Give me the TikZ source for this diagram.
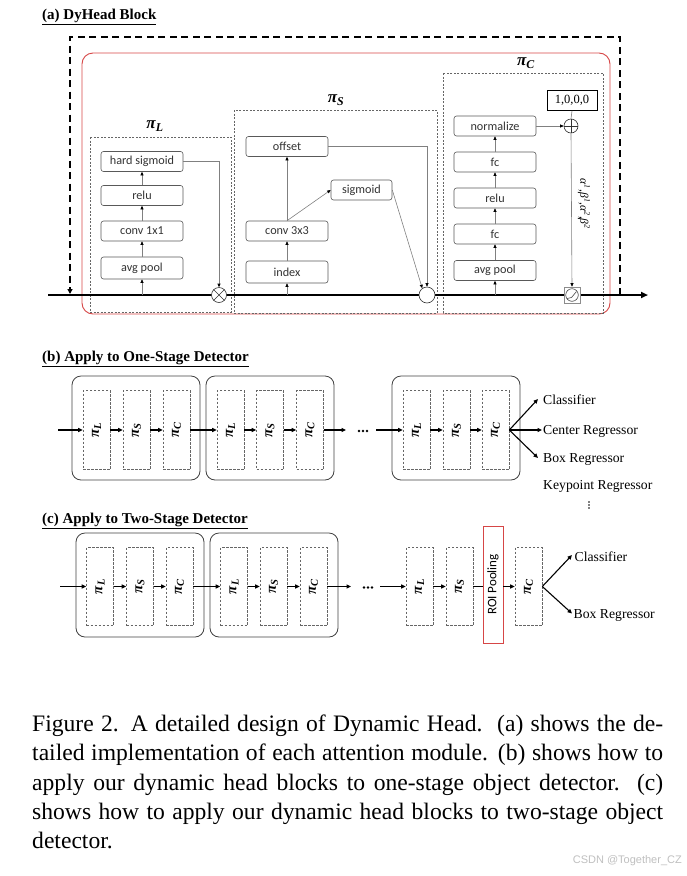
\documentclass[tikz,border=0pt]{standalone}
\usepackage{fontspec}
\setmainfont{Liberation Serif}
\newfontfamily\boxfont{Carlito}
\newfontfamily\wmfont{Liberation Sans}
\usetikzlibrary{arrows.meta,calc}
\definecolor{redf}{RGB}{214,70,70}
\newcommand{\pisym}[1]{{\bfseries\itshape π\textsubscript{#1}}}
\newcommand{\pilab}[1]{{\fontsize{15}{16}\selectfont\pisym{#1}}}
\tikzset{
 abox/.style={draw=black!65, rounded corners=2.5pt, minimum width=82pt, minimum height=20pt, inner sep=0pt, font=\boxfont\fontsize{12.2}{14}\selectfont, text=black!80, fill=white, line width=0.6pt},
 garr/.style={draw=black!50, line width=0.6pt, -{Triangle[length=3.5pt,width=3pt,color=black]}},
 gline/.style={draw=black!50, line width=0.6pt},
 pdash/.style={draw=black!60, line width=0.6pt, dash pattern=on 2pt off 1.5pt},
 mainln/.style={line width=2.2pt, black},
 blk/.style={draw=black!75, line width=0.8pt, rounded corners=9pt},
 pib/.style={draw=black!60, line width=0.6pt, dash pattern=on 2.5pt off 1.5pt, minimum width=27pt, minimum height=79pt, inner sep=0pt},
 barr/.style={line width=1.1pt, -{Triangle[length=4.5pt,width=4pt]}},
 bline/.style={line width=1.1pt},
 tlab/.style={font=\fontsize{13.7}{15}\selectfont, inner sep=0pt, anchor=base west},
 ttl/.style={font=\bfseries\fontsize{15}{17}\selectfont, anchor=base west, inner sep=0pt},
 capline/.style={anchor=base west, inner sep=0pt, font=\fontsize{23.6}{28}\selectfont},
 circ/.style={circle, draw=black!80, fill=white, inner sep=0pt, line width=0.6pt},
}
\begin{document}
\begin{tikzpicture}[x=1pt,y=-1pt]
\useasboundingbox (0,0) rectangle (687,876);

% ---------------- (a) ----------------
\node[ttl] (ta) at (42,19.5) {\underline{(a) DyHead Block}};

\draw[redf, line width=0.9pt, rounded corners=11pt] (82,53) rectangle (610,314);
\draw[pdash] (90,137) rectangle (231,312);
\draw[pdash] (234,110) rectangle (437,313);
\draw[pdash] (443,73) rectangle (603,313);

\node[font=\fontsize{17}{18}\selectfont] (lpiL) at (155,126) {\pisym{L}};
\node[font=\fontsize{17}{18}\selectfont] (lpiS) at (336,100) {\pisym{S}};
\node[font=\fontsize{17}{18}\selectfont] (lpiC) at (526,63) {\pisym{C}};

\coordinate (mlS) at (48,295);
\coordinate (mlE) at (648,295);
\coordinate (dR) at (620,295);
\coordinate (dTR) at (620,37);
\coordinate (dTL) at (70,37);
\coordinate (dL) at (70,294);
\draw[line width=2pt, dash pattern=on 7pt off 4.5pt, -{Triangle[length=5pt,width=5pt]}] (dR) -- (dTR) -- (dTL) -- (dL);
\draw[mainln, -{Triangle[length=7pt,width=6pt]}] (mlS) -- (mlE);

% pi_L
\node[abox] (hs) at (142,161.5) {hard sigmoid};
\node[abox] (re1) at (142,195.5) {relu};
\node[abox] (c11) at (142,231) {conv 1x1};
\node[abox, minimum height=22pt] (ap1) at (142,268) {avg pool};
% pi_S
\node[abox] (off) at (287,146.5) {offset};
\node[abox] (c33) at (287,231) {conv 3x3};
\node[abox, minimum height=22pt] (idx) at (287,272) {index};
\node[abox, minimum width=61pt] (sig) at (361.5,190) {sigmoid};
% pi_C
\node[abox] (nrm) at (495,126) {normalize};
\node[abox] (fc2) at (495,162) {fc};
\node[abox] (re3) at (495,198) {relu};
\node[abox] (fc1) at (495,234) {fc};
\node[abox] (ap3) at (495,270.5) {avg pool};
\node[draw=black, line width=0.8pt, minimum width=50pt, minimum height=20pt, inner sep=0pt, font=\fontsize{12.5}{14}\selectfont] (one) at (572,100.5) {1,0,0,0};

\node[circ, minimum size=15pt] (mul) at (219,295) {};
\draw[black!80, line width=0.6pt] (mul.45) -- (mul.225) (mul.135) -- (mul.315);
\node[circ, minimum size=16pt] (cs) at (427,295) {};
\node[circ, minimum size=14pt] (add) at (571,126) {};
\draw[black!80, line width=0.6pt] (add.north) -- (add.south) (add.west) -- (add.east);
\node[draw=black!45, fill=white, minimum size=16pt, inner sep=0pt, line width=0.6pt] (act) at (572,295) {};
\draw[black!70, line width=0.6pt] (act.center) circle (6.3pt);
\draw[black!70, line width=0.6pt] ($(act.center)+(-5,3.5)$) -- ($(act.center)+(-0.5,2.5)$) -- ($(act.center)+(4.5,-3.5)$);

\node[rotate=-90, font=\itshape\fontsize{11.5}{13}\selectfont] (ab) at (584,204) {α\textsuperscript{1},β\textsuperscript{1},α\textsuperscript{2},β\textsuperscript{2}};

% arrows (a)
\draw[garr] (ap1.south |- mlS) -- (ap1.south);
\draw[garr] (ap1.north) -- (c11.south);
\draw[garr] (c11.north) -- (re1.south);
\draw[garr] (re1.north) -- (hs.south);
\draw[garr] (hs.east) -| (mul.north);
\draw[garr] (idx.south |- mlS) -- (idx.south);
\draw[garr] (idx.north) -- (c33.south);
\draw[garr] (c33.north) -- (off.south);
\draw[garr] (c33.north) -- (sig.west);
\draw[garr] (off.east) -| (cs.north);
\draw[garr] (sig.east) -- (cs.125);
\draw[garr] (ap3.south |- mlS) -- (ap3.south);
\draw[garr] (ap3.north) -- (fc1.south);
\draw[garr] (fc1.north) -- (re3.south);
\draw[garr] (re3.north) -- (fc2.south);
\draw[garr] (fc2.north) -- (nrm.south);
\draw[garr] (nrm.east) -- (add.west);
\draw[gline] (one.south) -- (add.north);
\draw[garr] (add.south) -- (act.north);

% ---------------- (b) ----------------
\node[ttl] (tb) at (42,361) {\underline{(b) Apply to One-Stage Detector}};
\draw[blk] (72,376) rectangle (200,480);
\draw[blk] (206,376) rectangle (334,480);
\draw[blk] (392,376) rectangle (520,480);

\node[pib] (bL1) at (96.5,430) {\rotatebox{90}{\pilab{L}}};
\node[pib] (bS1) at (136.5,430) {\rotatebox{90}{\pilab{S}}};
\node[pib] (bC1) at (176.5,430) {\rotatebox{90}{\pilab{C}}};
\node[pib] (bL2) at (230.5,430) {\rotatebox{90}{\pilab{L}}};
\node[pib] (bS2) at (270,430) {\rotatebox{90}{\pilab{S}}};
\node[pib] (bC2) at (310,430) {\rotatebox{90}{\pilab{C}}};
\node[pib] (bL3) at (416.5,430) {\rotatebox{90}{\pilab{L}}};
\node[pib] (bS3) at (456.5,430) {\rotatebox{90}{\pilab{S}}};
\node[pib] (bC3) at (495.5,430) {\rotatebox{90}{\pilab{C}}};

\coordinate (bin) at (58,430);
\coordinate (bout) at (346,430);
\coordinate (bin3) at (376,430);
\draw[barr] (bin) -- (bL1.west);
\draw[barr] (bL1.east) -- (bS1.west);
\draw[barr] (bS1.east) -- (bC1.west);
\draw[barr] (bC1.east) -- (bL2.west);
\draw[barr] (bL2.east) -- (bS2.west);
\draw[barr] (bS2.east) -- (bC2.west);
\draw[barr] (bC2.east) -- (bout);
\fill (359,431) circle (1.4) (363,431) circle (1.4) (367,431) circle (1.4);
\draw[barr] (bin3) -- (bL3.west);
\draw[barr] (bL3.east) -- (bS3.west);
\draw[barr] (bS3.east) -- (bC3.west);

\node[tlab] (bcls) at (543,404.5) {Classifier};
\node[tlab] (bctr) at (543,434.5) {Center Regressor};
\node[tlab] (bbox) at (543,462) {Box Regressor};
\node[tlab] (bkp) at (543,489) {Keypoint Regressor};
\coordinate (tcls) at (538,399);
\coordinate (tctr) at (542,430);
\coordinate (tbox) at (538,458);
\draw[barr] (bC3.east) -- (tcls);
\draw[barr] (bC3.east) -- (tctr);
\draw[barr] (bC3.east) -- (tbox);
\fill (589,502) circle (0.8) (589,505) circle (0.8) (589,508) circle (0.8);

% ---------------- (c) ----------------
\node[ttl] (tc) at (42,523) {\underline{(c) Apply to Two-Stage Detector}};
\draw[blk] (76,533) rectangle (204,637);
\draw[blk] (210,533) rectangle (338,637);

\node[pib, minimum height=78pt] (cL1) at (100,586.5) {\rotatebox{90}{\pilab{L}}};
\node[pib, minimum height=78pt] (cS1) at (140,586.5) {\rotatebox{90}{\pilab{S}}};
\node[pib, minimum height=78pt] (cC1) at (179.5,586.5) {\rotatebox{90}{\pilab{C}}};
\node[pib, minimum height=78pt] (cL2) at (234,586.5) {\rotatebox{90}{\pilab{L}}};
\node[pib, minimum height=78pt] (cS2) at (273.5,586.5) {\rotatebox{90}{\pilab{S}}};
\node[pib, minimum height=78pt] (cC2) at (313.5,586.5) {\rotatebox{90}{\pilab{C}}};
\node[pib, minimum height=78pt] (cL3) at (419.5,586.5) {\rotatebox{90}{\pilab{L}}};
\node[pib, minimum height=78pt] (cS3) at (459.5,586.5) {\rotatebox{90}{\pilab{S}}};
\node[draw=redf, line width=0.8pt, minimum width=20pt, minimum height=117pt, inner sep=0pt] (roi) at (493,584.5) {\rotatebox{90}{\boxfont\fontsize{13}{15}\selectfont ROI Pooling}};
\node[pib, minimum height=78pt] (cC3) at (528.5,586.5) {\rotatebox{90}{\pilab{C}}};

\coordinate (cin) at (60,586.5);
\coordinate (cout) at (351,586.5);
\coordinate (cin3) at (380,586.5);
\draw[barr] (cin) -- (cL1.west);
\draw[barr] (cL1.east) -- (cS1.west);
\draw[barr] (cS1.east) -- (cC1.west);
\draw[barr] (cC1.east) -- (cL2.west);
\draw[barr] (cL2.east) -- (cS2.west);
\draw[barr] (cS2.east) -- (cC2.west);
\draw[barr] (cC2.east) -- (cout);
\fill (364,587.5) circle (1.4) (368,587.5) circle (1.4) (372,587.5) circle (1.4);
\draw[barr] (cin3) -- (cL3.west);
\draw[barr] (cL3.east) -- (cS3.west);
\draw[bline] (cS3.east) -- (cS3.east -| roi.west);
\draw[barr] (roi.east |- cC3.west) -- (cC3.west);

\node[tlab] (ccls) at (574.5,561) {Classifier};
\node[tlab] (cbox) at (573.5,618.5) {Box Regressor};
\coordinate (tccls) at (572,555);
\coordinate (tcbox) at (572,613.5);
\draw[barr] (cC3.east) -- (tccls);
\draw[barr] (cC3.east) -- (tcbox);

% ---------------- caption ----------------
\node[capline] (cap1) at (32,731.5) {\makebox[631pt][s]{Figure 2. A detailed design of Dynamic Head.\ \ (a) shows the de-}};
\node[capline] (cap2) at (32,760.8) {\makebox[631pt][s]{tailed implementation of each attention module. (b) shows how to}};
\node[capline] (cap3) at (32,790.1) {\makebox[631pt][s]{apply our dynamic head blocks to one-stage object detector.\ \ (c)}};
\node[capline] (cap4) at (32,819.4) {\makebox[631pt][s]{shows how to apply our dynamic head blocks to two-stage object}};
\node[capline] (cap5) at (32,848.7) {detector.};

\node[anchor=east, inner sep=0pt, text=black!25, font=\wmfont\fontsize{11}{13}\selectfont] (wm) at (682,861) {CSDN @Together\_CZ};
\end{tikzpicture}
\end{document}
